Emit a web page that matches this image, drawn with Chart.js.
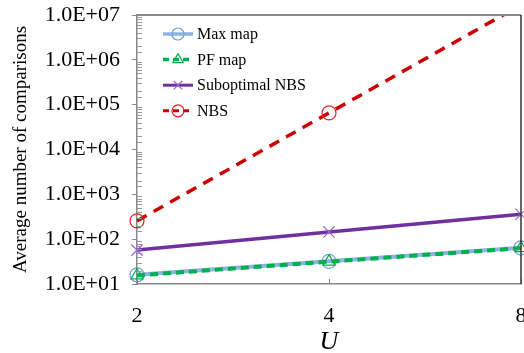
<!DOCTYPE html>
<html><head><meta charset="utf-8">
<script src="https://cdn.jsdelivr.net/npm/chart.js@4/dist/chart.umd.min.js"></script>
<style>html,body{margin:0;padding:0;background:#fff;overflow:hidden}#wrap{width:524px;height:353px;position:relative}</style>
</head><body><div id="wrap"><canvas id="c" width="524" height="353"></canvas></div>
<script>
const categories = ['2', '4', '8'];
const seriesNames = ['Max map', 'PF map', 'Suboptimal NBS', 'NBS'];
const maxMap = [16, 32, 64];
const pfMap = [15.5, 31.5, 63];
const subNBS = [57, 145, 360];
const nbs = [256, 65536, 16777216];
const yMajorTicks = [1e1, 1e2, 1e3, 1e4, 1e5, 1e6, 1e7];
const yTitle = 'Average number of comparisons';
const xTitle = 'U';

const SERIF = "'Liberation Serif', 'Times New Roman', serif";
const isMajor = v => yMajorTicks.some(m => Math.abs(v - m) / m < 1e-9);
const fmt = v => { const e = Math.round(Math.log10(v)); return '1.0E+' + String(e).padStart(2, '0'); };

const datasets = [
  { label: seriesNames[0], data: maxMap, borderColor: '#8db3e2', borderWidth: 4, pointStyle: 'circle', pointRadius: 7,
    pointBorderColor: '#6f9fd8', pointBackgroundColor: 'rgba(0,0,0,0)', pointBorderWidth: 1.2, order: 1, borderDash: [] },
  { label: seriesNames[1], data: pfMap, borderColor: '#00b050', borderWidth: 4, borderDash: [8, 5], pointStyle: 'triangle', pointRadius: 7,
    pointBorderColor: '#00b050', pointBackgroundColor: 'rgba(0,0,0,0)', pointBorderWidth: 1.2, order: 0 },
  { label: seriesNames[2], data: subNBS, borderColor: '#7030a0', borderWidth: 3.5, pointStyle: 'crossRot', pointRadius: 8,
    pointBorderColor: '#9966cc', pointBackgroundColor: 'rgba(0,0,0,0)', pointBorderWidth: 1.2, order: 2, borderDash: [] },
  { label: seriesNames[3], data: nbs, borderColor: '#cc0000', borderWidth: 3.5, borderDash: [11, 8], pointStyle: 'circle', pointRadius: 7,
    pointBorderColor: '#e02020', pointBackgroundColor: 'rgba(0,0,0,0)', pointBorderWidth: 1.2, order: 3 }
];
datasets.forEach(d => { d.fill = false; d.tension = 0; d.backgroundColor = 'rgba(0,0,0,0)'; });

const framePlugin = {
  id: 'frame',
  afterDraw(chart) {
    const ctx = chart.ctx, a = chart.chartArea, y = chart.scales.y, x = chart.scales.x;
    ctx.save();
    ctx.strokeStyle = '#999'; ctx.lineWidth = 1;
    y.ticks.forEach(t => {
      if (!isMajor(t.value)) {
        const py = Math.round(y.getPixelForValue(t.value)) + 0.5;
        ctx.beginPath(); ctx.moveTo(a.left, py); ctx.lineTo(a.left + 5, py); ctx.stroke();
      }
    });
    ctx.strokeStyle = '#888';
    categories.forEach((c, i) => {
      const px = Math.round(x.getPixelForValue(i)) + 0.5;
      ctx.beginPath(); ctx.moveTo(px, a.bottom); ctx.lineTo(px, a.bottom - 5); ctx.stroke();
    });
    ctx.strokeStyle = '#888'; ctx.lineWidth = 2;
    ctx.beginPath(); ctx.moveTo(a.left, a.top); ctx.lineTo(a.right, a.top); ctx.stroke();
    ctx.strokeStyle = '#333'; ctx.lineWidth = 1.5;
    ctx.beginPath(); ctx.moveTo(a.right, a.top); ctx.lineTo(a.right, a.bottom); ctx.stroke();

    const lx0 = 163, lx1 = 193, tx = 197, ly0 = 34, dy = 25.6;
    datasets.forEach((d, i) => {
      const ly = ly0 + i * dy;
      ctx.save();
      ctx.strokeStyle = d.borderColor; ctx.lineWidth = d.borderWidth - 0.5;
      ctx.setLineDash(d.borderDash && d.borderDash.length ? [6, 4] : []);
      ctx.beginPath(); ctx.moveTo(lx0, ly); ctx.lineTo(lx1, ly); ctx.stroke();
      ctx.setLineDash([]);
      ctx.strokeStyle = d.pointBorderColor; ctx.fillStyle = 'rgba(0,0,0,0)'; ctx.lineWidth = 1.2;
      Chart.helpers.drawPoint(ctx, { pointStyle: d.pointStyle, radius: 6, rotation: 0, borderWidth: 1.2 }, (lx0 + lx1) / 2, ly);
      ctx.restore();
      ctx.fillStyle = '#000'; ctx.font = '16px ' + SERIF; ctx.textBaseline = 'middle'; ctx.textAlign = 'left';
      ctx.fillText(d.label, tx, ly + 1);
    });
    ctx.restore();
  }
};

new Chart(document.getElementById('c'), {
  type: 'line',
  data: { labels: categories, datasets },
  options: {
    responsive: false, animation: false, devicePixelRatio: 1,
    layout: { autoPadding: false, padding: { top: 15, right: 3, left: 0, bottom: 0 } },
    plugins: { legend: { display: false }, tooltip: { enabled: false } },
    scales: {
      x: {
        type: 'category', offset: false,
        grid: { display: false },
        border: { display: true, color: '#888', width: 1.5 },
        ticks: { color: '#000', font: { family: SERIF, size: 22 }, padding: 11, maxRotation: 0, autoSkip: false },
        title: { display: true, text: xTitle, color: '#000', font: { family: SERIF, size: 26, style: 'italic', lineHeight: 0.85 }, padding: { top: 0, bottom: 0 } },
        afterFit: s => { s.height = 69; s.paddingLeft = 0; s.paddingRight = 0; }
      },
      y: {
        type: 'logarithmic', min: 10, max: 1e7,
        grid: { drawOnChartArea: false, tickLength: 5, color: c => (c.tick && isMajor(c.tick.value)) ? '#888' : 'rgba(0,0,0,0)' },
        border: { display: true, color: '#888', width: 1.5 },
        ticks: { color: '#000', font: { family: SERIF, size: 22 }, padding: 12, autoSkip: false,
          callback: v => isMajor(v) ? fmt(v) : '' },
        title: { display: true, text: yTitle, color: '#000', font: { family: SERIF, size: 19, lineHeight: 1.2 }, padding: { top: 10, bottom: 0 } },
        afterFit: s => { s.width = 137; s.paddingTop = 0; s.paddingBottom = 0; }
      }
    }
  },
  plugins: [framePlugin]
});
</script></body></html>
